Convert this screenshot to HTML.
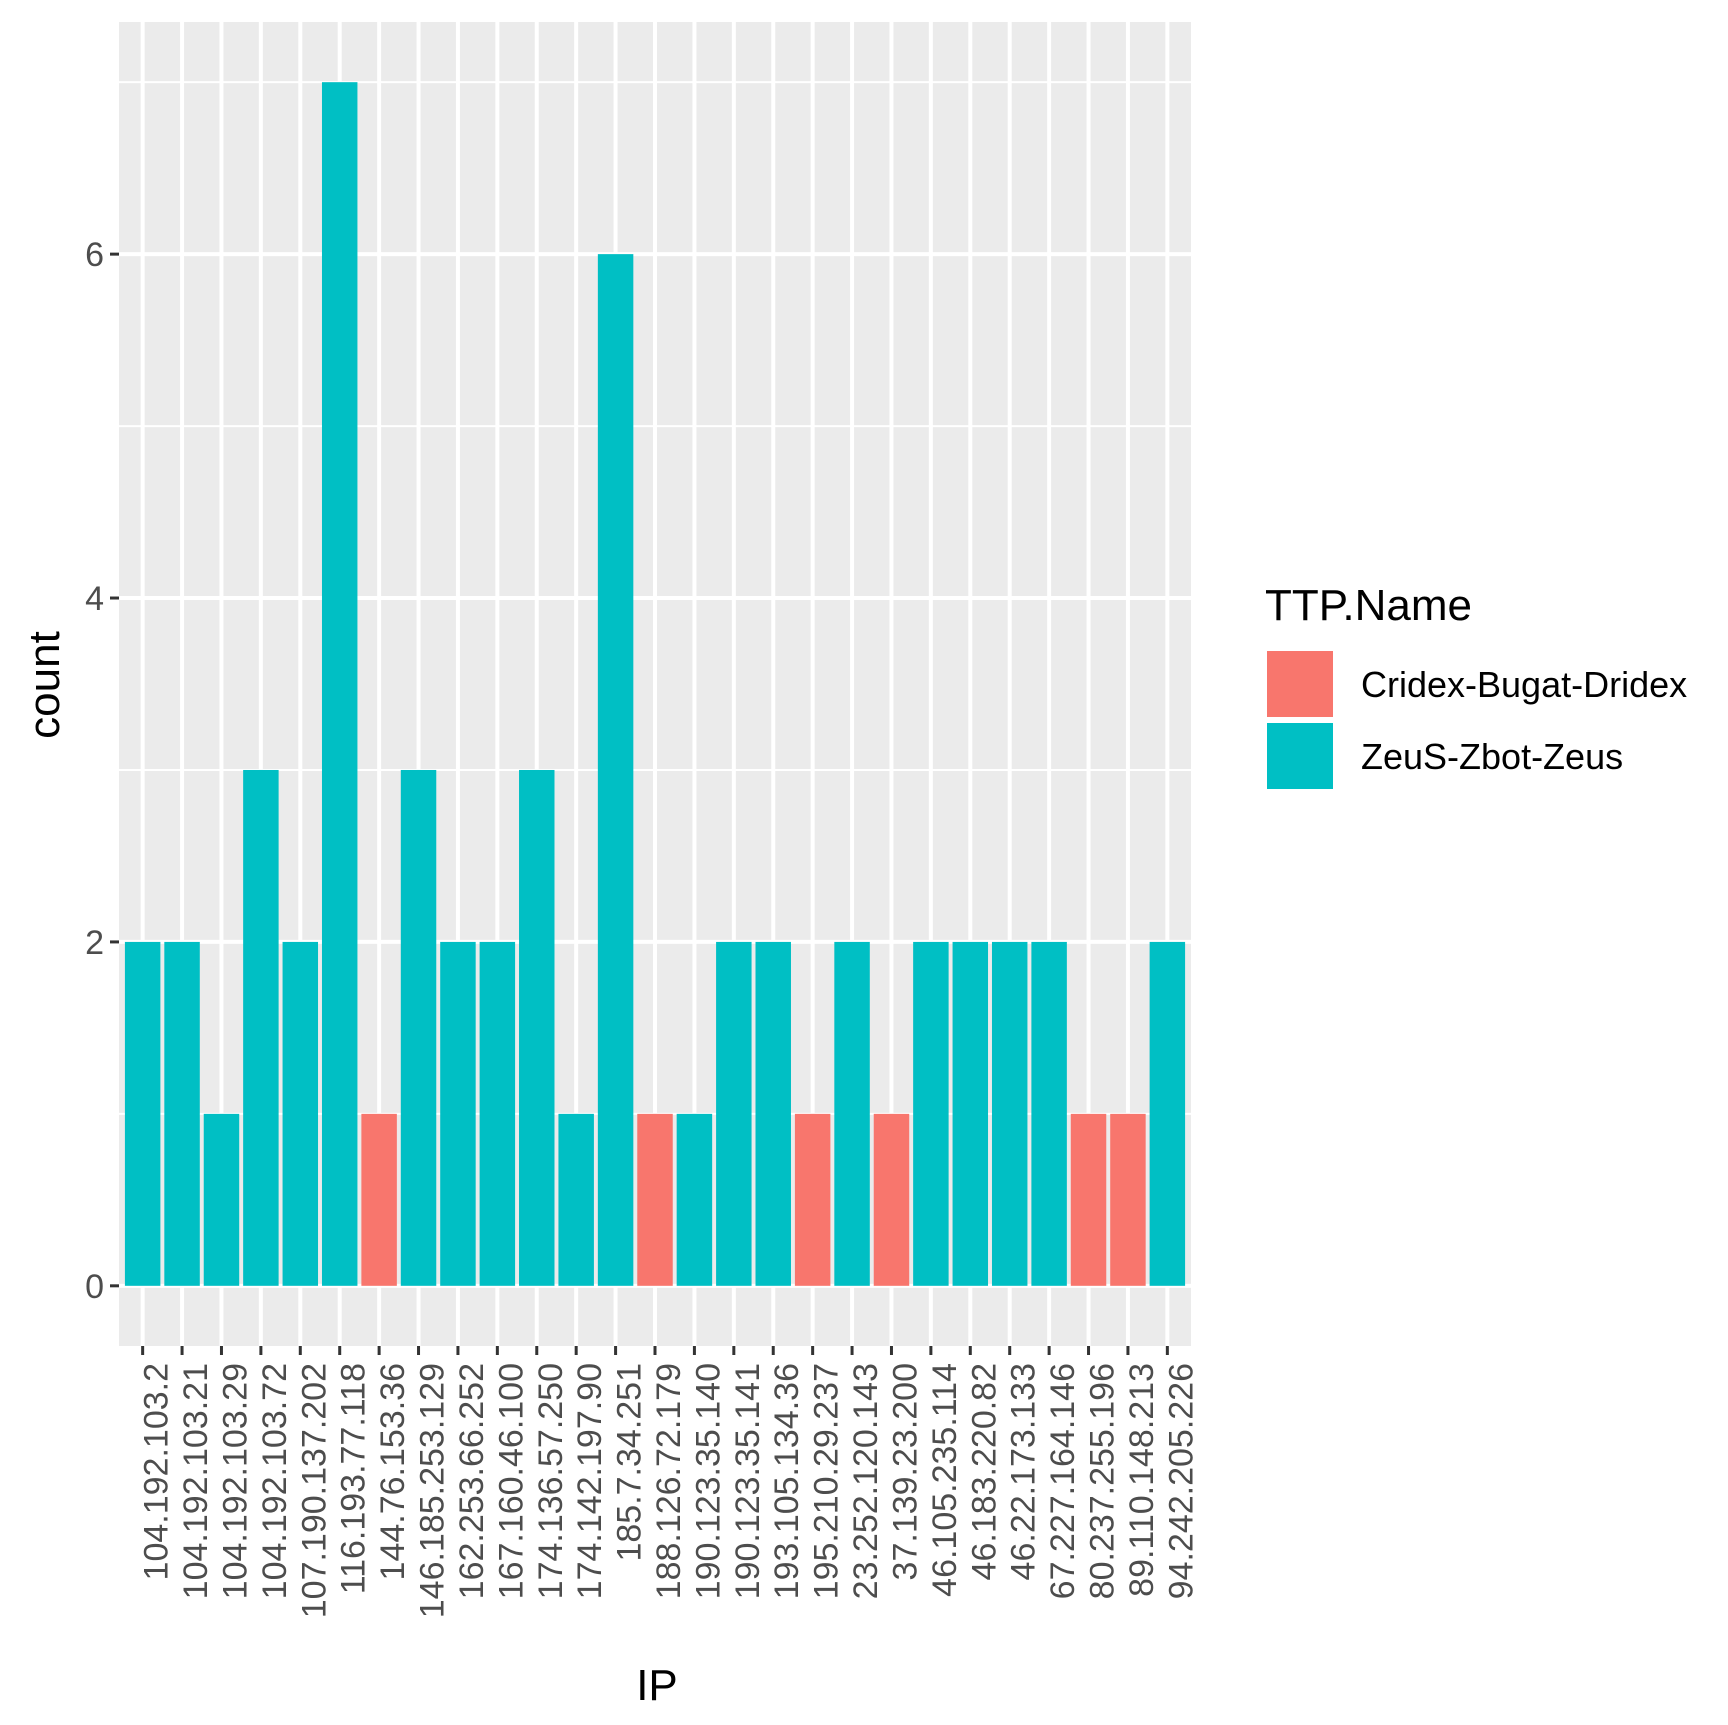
<!DOCTYPE html>
<html><head><meta charset="utf-8"><style>
body{margin:0;background:#fff}
svg{display:block;font-family:"Liberation Sans",Arial,sans-serif}
</style></head><body>
<svg id="chart" width="1728" height="1725"></svg>
<script>
const categories=["104.192.103.2","104.192.103.21","104.192.103.29","104.192.103.72","107.190.137.202","116.193.77.118","144.76.153.36","146.185.253.129","162.253.66.252","167.160.46.100","174.136.57.250","174.142.197.90","185.7.34.251","188.126.72.179","190.123.35.140","190.123.35.141","193.105.134.36","195.210.29.237","23.252.120.143","37.139.23.200","46.105.235.114","46.183.220.82","46.22.173.133","67.227.164.146","80.237.255.196","89.110.148.213","94.242.205.226"];
const counts=[2,2,1,3,2,7,1,3,2,2,3,1,6,1,1,2,2,1,2,1,2,2,2,2,1,1,2];
const groups=["Z","Z","Z","Z","Z","Z","C","Z","Z","Z","Z","Z","Z","C","Z","Z","Z","C","Z","C","Z","Z","Z","Z","C","C","Z"];
const yTicks=[0,2,4,6];
const legendLabels=["Cridex-Bugat-Dridex","ZeuS-Zbot-Zeus"];
const colors={C:"#F8766D",Z:"#00BFC4"};
const NS="http://www.w3.org/2000/svg";
const svg=document.getElementById('chart');
const L=119,R=1191,T=22,B=1346;
const n=categories.length, step=(R-L)/(n-1+1.2);
const x=i=>L+(0.6+i)*step;
const yMin=-0.35,yMax=7.35;
const y=v=>B-(v-yMin)/(yMax-yMin)*(B-T);
function el(tag,attrs,parent){const e=document.createElementNS(NS,tag);for(const k in attrs)e.setAttribute(k,attrs[k]);(parent||svg).appendChild(e);return e;}
const panel=el('rect',{x:L,y:T,width:R-L,height:B-T,fill:"#EBEBEB"});


for(let v=1;v<=7;v+=2){const g=el('line',{x1:L,x2:R,y1:y(v),y2:y(v),stroke:"#fff","stroke-width":2});

}
yTicks.forEach(v=>{const g=el('line',{x1:L,x2:R,y1:y(v),y2:y(v),stroke:"#fff","stroke-width":4});


const t=el('line',{x1:L-9,x2:L,y1:y(v),y2:y(v),stroke:"#333","stroke-width":3});


const lb=el('text',{x:L-15,y:y(v)+12,"text-anchor":"end","font-size":34,fill:"#4D4D4D"});lb.textContent=v;

});
categories.forEach((c,i)=>{const g=el('line',{x1:x(i),x2:x(i),y1:T,y2:B,stroke:"#fff","stroke-width":4});

});
categories.forEach((c,i)=>{const w=step*0.9;
const b=el('rect',{x:x(i)-w/2,y:y(counts[i]),width:w,height:y(0)-y(counts[i]),fill:colors[groups[i]]});


const t=el('line',{x1:x(i),x2:x(i),y1:B,y2:B+9,stroke:"#333","stroke-width":3});


const lb=el('text',{transform:`translate(${x(i)+25},${B+17}) rotate(-90)`,"text-anchor":"end","font-size":34,fill:"#4D4D4D"});lb.textContent=c;

});
const xt=el('text',{x:657,y:1700,"text-anchor":"middle","font-size":44,fill:"#000"});xt.textContent="IP";


const yt=el('text',{transform:"translate(59,685) rotate(-90)","text-anchor":"middle","font-size":44,fill:"#000"});yt.textContent="count";


const lt=el('text',{x:1265,y:620,"font-size":44,fill:"#000"});lt.textContent="TTP.Name";


legendLabels.forEach((s,k)=>{const yy=651+k*72;
const r=el('rect',{x:1267,y:yy,width:66,height:66,fill:k?colors.Z:colors.C});


const t=el('text',{x:1361,y:yy+46,"font-size":36,fill:"#000"});t.textContent=s;

});
</script>
</body></html>
